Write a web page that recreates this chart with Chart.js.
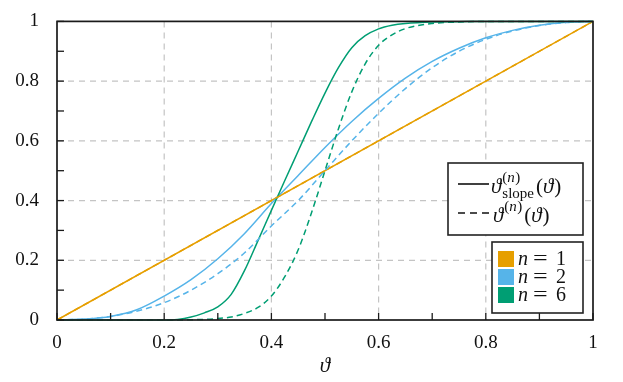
<!DOCTYPE html>
<html>
<head>
<meta charset="utf-8">
<script src="https://cdn.jsdelivr.net/npm/chart.js@4.4.7/dist/chart.umd.min.js"></script>
<style>
  html, body { margin: 0; padding: 0; background: #fff; overflow: hidden; }
  .chart-container { width: 623px; height: 382px; position: relative; }
</style>
</head>
<body>
<div class="chart-container">
  <canvas id="chart"></canvas>
</div>

<script>
  // values
  const thetaLinear = [0, 1]
  const slopeN1 = [0, 1]
  const thetaN1 = [0, 1]

  const thetaN2 = [0, 0.05, 0.1, 0.15, 0.2, 0.25, 0.3, 0.35, 0.4, 0.45, 0.5, 0.55, 0.6, 0.65, 0.7, 0.75, 0.8, 0.85, 0.9, 0.95, 1]
  const slopeN2 = [0, 0.003, 0.012, 0.035, 0.08, 0.135, 0.205, 0.29, 0.39, 0.484, 0.578, 0.665, 0.742, 0.81, 0.866, 0.91, 0.945, 0.97, 0.987, 0.997, 1]
  const plainN2 = [0, 0.003, 0.012, 0.03, 0.058, 0.1, 0.155, 0.225, 0.315, 0.4, 0.5, 0.6, 0.692, 0.775, 0.845, 0.9, 0.94, 0.968, 0.986, 0.996, 1]

  const thetaN6 = [0, 0.1, 0.2, 0.225, 0.25, 0.275, 0.3, 0.325, 0.35, 0.375, 0.4, 0.425, 0.45, 0.475, 0.5, 0.525, 0.55, 0.575, 0.6, 0.625, 0.65, 0.7, 0.75, 0.8, 0.9, 1]
  const slopeN6 = [0, 0, 0, 0.002, 0.01, 0.024, 0.044, 0.086, 0.166, 0.266, 0.367, 0.467, 0.566, 0.665, 0.76, 0.845, 0.912, 0.952, 0.975, 0.987, 0.993, 0.998, 0.999, 1, 1, 1]
  const plainN6 = [0, 0, 0, 0, 0.001, 0.002, 0.005, 0.01, 0.022, 0.042, 0.08, 0.145, 0.235, 0.36, 0.5, 0.64, 0.764, 0.858, 0.92, 0.955, 0.976, 0.993, 0.998, 1, 1, 1]

  const majorTicks = [0, 0.2, 0.4, 0.6, 0.8, 1]
  const minorTicks = [0.1, 0.3, 0.5, 0.7, 0.9]
  const nLabels = ['1', '2', '6']

  const colors = ['#E69F00', '#56B4E9', '#009E73']
  const serif = '"Liberation Serif", "DejaVu Serif", serif'

  Chart.defaults.font.family = serif
  Chart.defaults.color = '#111'

  function points(xs, ys) {
    return xs.map((v, i) => ({ x: v, y: ys[i] }))
  }

  function line(label, xs, ys, color, dashed) {
    return {
      label: label,
      data: points(xs, ys),
      borderColor: color,
      backgroundColor: color,
      borderWidth: 1.5,
      borderDash: dashed ? [6, 4] : [],
      pointRadius: 0,
      fill: false,
      cubicInterpolationMode: 'monotone',
      clip: 3
    }
  }

  /*
   * grid lines, inward tick marks and the box frame
   */
  const framePlugin = {
    id: 'frame',
    beforeDatasetsDraw(chart) {
      const { ctx, chartArea: a, scales: { x, y } } = chart
      ctx.save()
      ctx.strokeStyle = '#c4c4c4'
      ctx.lineWidth = 1.2
      ctx.setLineDash([6, 5])
      majorTicks.slice(1, -1).forEach((v) => {
        const px = x.getPixelForValue(v)
        ctx.beginPath(); ctx.moveTo(px, a.top); ctx.lineTo(px, a.bottom); ctx.stroke()
        const py = y.getPixelForValue(v)
        ctx.beginPath(); ctx.moveTo(a.left, py); ctx.lineTo(a.right, py); ctx.stroke()
      })
      ctx.restore()
    },
    afterDatasetsDraw(chart) {
      const { ctx, chartArea: a, scales: { x, y } } = chart
      ctx.save()
      ctx.strokeStyle = '#1a1a1a'
      ctx.lineWidth = 1.3
      majorTicks.concat(minorTicks).forEach((v) => {
        const px = x.getPixelForValue(v)
        ctx.beginPath(); ctx.moveTo(px, a.bottom); ctx.lineTo(px, a.bottom - 7); ctx.stroke()
        const py = y.getPixelForValue(v)
        ctx.beginPath(); ctx.moveTo(a.left, py); ctx.lineTo(a.left + 7, py); ctx.stroke()
      })
      ctx.lineWidth = 1.7
      ctx.strokeRect(a.left, a.top, a.right - a.left, a.bottom - a.top)
      ctx.restore()
    }
  }

  // draw a list of text runs, some italic, returns end x
  function runs(ctx, parts, x, y, size) {
    parts.forEach((p) => {
      ctx.font = (p.it ? 'italic ' : '') + size + 'px ' + serif
      ctx.fillText(p.t, x, y)
      x += ctx.measureText(p.t).width + (p.gap || 0)
    })
    return x
  }

  const legendPlugin = {
    id: 'texLegend',
    afterDraw(chart) {
      const ctx = chart.ctx
      ctx.save()
      ctx.textBaseline = 'alphabetic'
      ctx.textAlign = 'left'

      // style legend
      ctx.fillStyle = '#fff'
      ctx.fillRect(448, 163, 135, 72)
      ctx.strokeStyle = '#222'
      ctx.lineWidth = 1.6
      ctx.strokeRect(448, 163, 135, 72)

      ctx.strokeStyle = '#111'
      ctx.lineWidth = 1.6
      ctx.beginPath(); ctx.moveTo(458, 184); ctx.lineTo(489, 184); ctx.stroke()
      ctx.setLineDash([7, 5])
      ctx.beginPath(); ctx.moveTo(458, 213); ctx.lineTo(489, 213); ctx.stroke()
      ctx.setLineDash([])

      ctx.fillStyle = '#111'
      const sup = [{ t: '(' }, { t: 'n', it: true, gap: 0.5 }, { t: ')' }]
      const arg = [{ t: '(' }, { t: 'ϑ', it: true, gap: 1 }, { t: ')' }]

      let x = runs(ctx, [{ t: 'ϑ', it: true }], 491, 193, 21) + 1
      const xs = runs(ctx, sup, x, 182, 15)
      const xb = runs(ctx, [{ t: 'slope' }], x, 198, 15)
      runs(ctx, arg, Math.max(xs, xb) + 2, 193, 21)

      x = runs(ctx, [{ t: 'ϑ', it: true }], 493, 222, 21) + 1
      x = runs(ctx, sup, x, 211, 15)
      runs(ctx, arg, x + 2, 222, 21)

      // colour legend
      ctx.fillStyle = '#fff'
      ctx.fillRect(492, 242, 91, 71)
      ctx.strokeStyle = '#222'
      ctx.strokeRect(492, 242, 91, 71)

      nLabels.forEach((n, i) => {
        const top = 251 + i * 18
        ctx.fillStyle = colors[i]
        ctx.fillRect(498, top, 16, 16)
        ctx.fillStyle = '#111'
        runs(ctx, [{ t: 'n', it: true }], 518, top + 14, 20)
        // wide TeX-like equals sign
        ctx.save()
        ctx.translate(533, top + 14)
        ctx.scale(1.3, 1)
        runs(ctx, [{ t: '=' }], 0, 0, 20)
        ctx.restore()
        runs(ctx, [{ t: n }], 556, top + 14, 20)
      })
      ctx.restore()
    }
  }

  const data = {
    datasets: [
      line('n=6 plain', thetaN6, plainN6, colors[2], true),
      line('n=2 plain', thetaN2, plainN2, colors[1], true),
      line('n=1 plain', thetaLinear, thetaN1, colors[0], true),
      line('n=6 slope', thetaN6, slopeN6, colors[2], false),
      line('n=2 slope', thetaN2, slopeN2, colors[1], false),
      line('n=1 slope', thetaLinear, slopeN1, colors[0], false)
    ]
  }

  function tickText(v) {
    return String(Math.round(v * 10) / 10)
  }

  const config = {
    type: 'line',
    data: data,
    plugins: [framePlugin, legendPlugin],
    options: {
      responsive: true,
      maintainAspectRatio: false,
      animation: false,
      layout: { padding: { top: 17.5, right: 30, left: 0, bottom: 0 } },
      plugins: { legend: { display: false }, tooltip: { enabled: false } },
      scales: {
        x: {
          type: 'linear',
          min: 0,
          max: 1,
          grid: { display: false },
          border: { display: false },
          ticks: { stepSize: 0.2, padding: 4, font: { size: 19 }, maxRotation: 0, callback: tickText },
          title: { display: true, text: 'ϑ', font: { size: 21, style: 'italic' }, padding: { top: 0, bottom: 3 } },
          afterFit: (s) => { s.height = 62 }
        },
        y: {
          min: 0,
          max: 1,
          grid: { display: false },
          border: { display: false },
          ticks: { stepSize: 0.2, padding: 10, font: { size: 19 }, callback: tickText },
          afterFit: (s) => { s.width = 57 }
        }
      }
    }
  }

  const myChart = new Chart(document.getElementById('chart'), config)
</script>
</body>
</html>
